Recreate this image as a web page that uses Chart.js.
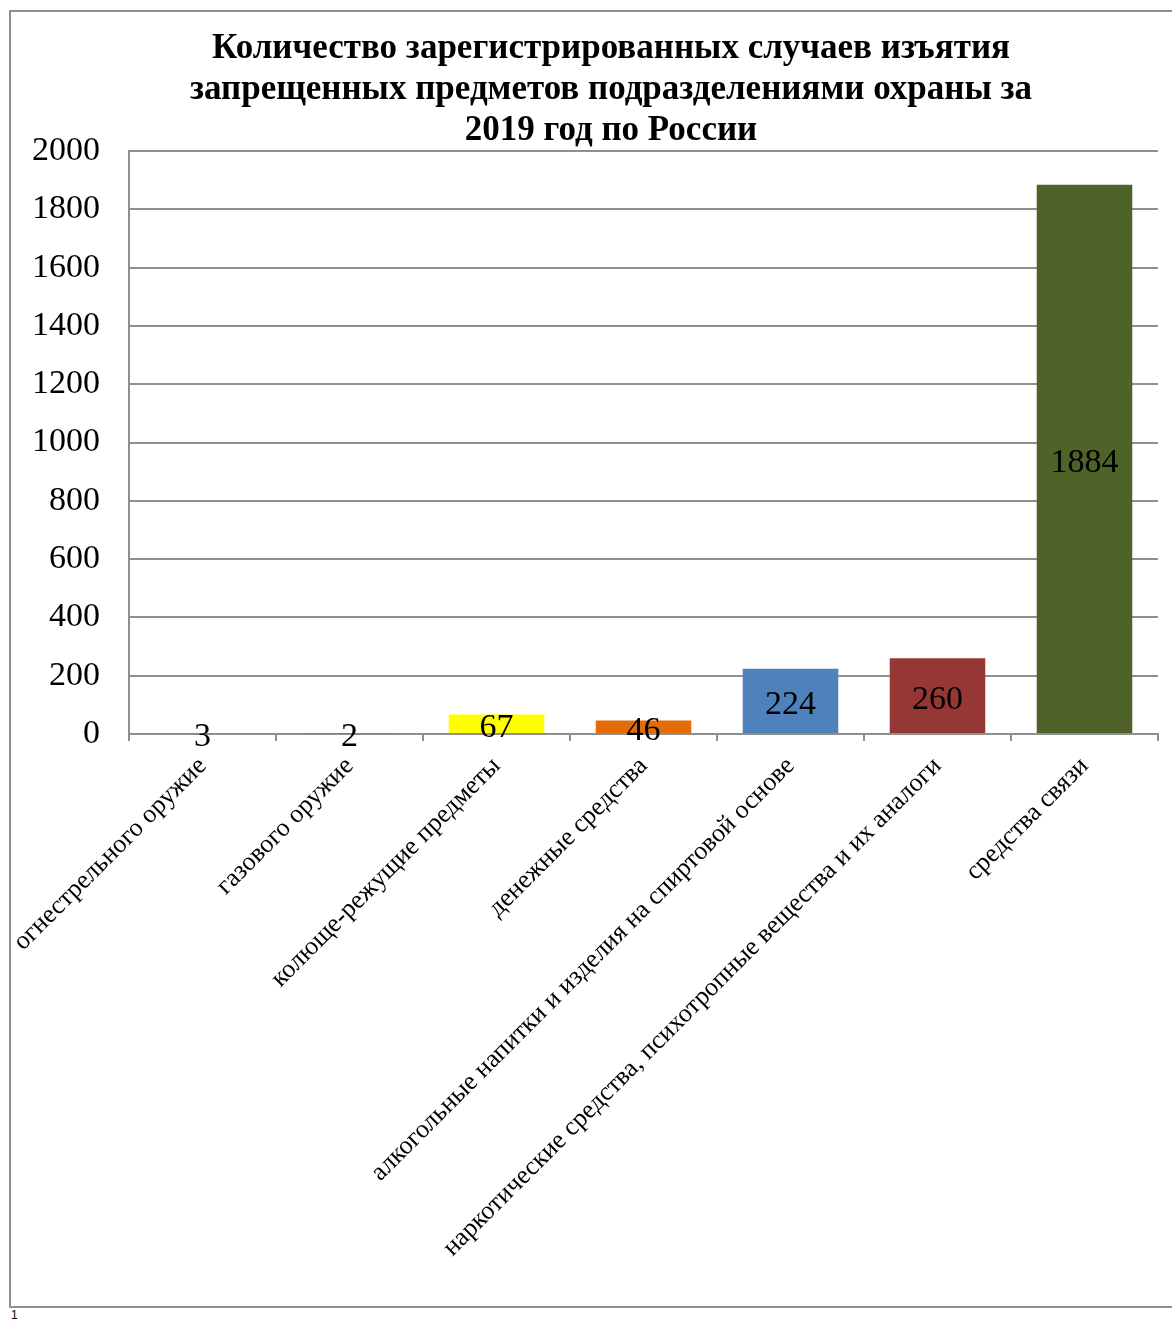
<!DOCTYPE html>
<html>
<head>
<meta charset="utf-8">
<script src="https://cdn.jsdelivr.net/npm/chart.js@4.4.1/dist/chart.umd.min.js"></script>
<style>
    body { margin: 0; background: #fff; overflow: hidden; }
    #box { position: absolute; left: 9px; top: 10px; width: 1200px; height: 1294px; border: 2px solid #8f8f8f; }
    #note { position: absolute; left: 11px; top: 1308px; font: 12px "Liberation Sans", sans-serif; color: #000; }
</style>
</head>
<body>
<div id="box"><canvas id="canvas" width="1200" height="1294"></canvas></div>
<div id="note">1</div>
<script>
// categories and values
const categories = [
    'огнестрельного оружие',
    'газового оружие',
    'колюще-режущие предметы',
    'денежные средства',
    'алкогольные напитки и изделия на спиртовой основе',
    'наркотические средства, психотропные вещества и их аналоги',
    'средства связи'
];
const values = [3, 2, 67, 46, 224, 260, 1884];
const barColors = ['#7F7F7F', '#C0504D', '#FFFF00', '#E36C09', '#4F81BD', '#953735', '#4F6228'];
const titleLines = [
    'Количество зарегистрированных случаев изъятия',
    'запрещенных предметов подразделениями охраны за',
    '2019 год по России'
];

const serif = "'Liberation Serif', 'Times New Roman', serif";

// title centred on the whole canvas (the built-in one centres between paddings)
const titleText = {
    id: 'titleText',
    afterDraw(chart) {
        const c = chart.ctx;
        c.save();
        c.font = 'bold 35px ' + serif;
        c.fillStyle = '#000';
        c.textAlign = 'center';
        c.textBaseline = 'middle';
        titleLines.forEach(function (line, i) {
            c.fillText(line, chart.width / 2, 37 + i * 41);
        });
        c.restore();
    }
};

// value labels in the middle of each bar
const barLabels = {
    id: 'barLabels',
    afterDatasetsDraw(chart) {
        const c = chart.ctx;
        const meta = chart.getDatasetMeta(0);
        c.save();
        c.font = '34px ' + serif;
        c.fillStyle = '#000';
        c.textAlign = 'center';
        c.textBaseline = 'middle';
        meta.data.forEach(function (bar, i) {
            const p = bar.getProps(['x', 'y', 'base'], true);
            c.fillText(String(values[i]), p.x, (p.y + p.base) / 2 + 4);
        });
        c.restore();
    }
};

const ctx = document.getElementById('canvas').getContext('2d');
const chart = new Chart(ctx, {
    type: 'bar',
    data: {
        labels: categories,
        datasets: [{
            data: values,
            backgroundColor: barColors,
            borderWidth: 0,
            barPercentage: 0.65,
            categoryPercentage: 1.0
        }]
    },
    options: {
        responsive: false,
        animation: false,
        devicePixelRatio: 1,
        layout: {
            padding: { left: -8, right: 53, top: 139, bottom: 33 }
        },
        plugins: {
            legend: { display: false },
            tooltip: { enabled: false },
            title: { display: false }
        },
        scales: {
            x: {
                afterFit: function (scale) {
                    scale.paddingLeft = 0;
                    scale.paddingRight = 0;
                },
                grid: {
                    offset: true,
                    drawOnChartArea: false,
                    drawTicks: true,
                    tickLength: 7,
                    color: '#8f8f8f',
                    lineWidth: 2
                },
                border: { color: '#8f8f8f', width: 2 },
                ticks: {
                    autoSkip: false,
                    maxRotation: 45,
                    minRotation: 45,
                    padding: 10,
                    color: '#000',
                    font: { family: serif, size: 26 }
                }
            },
            y: {
                min: 0,
                max: 2000,
                grid: {
                    drawTicks: false,
                    color: '#8f8f8f',
                    lineWidth: 2
                },
                border: { color: '#8f8f8f', width: 2 },
                ticks: {
                    stepSize: 200,
                    padding: 29,
                    color: '#000',
                    font: { family: serif, size: 34 },
                    callback: function (v) { return String(v); }
                }
            }
        }
    },
    plugins: [barLabels, titleText]
});
</script>
</body>
</html>
